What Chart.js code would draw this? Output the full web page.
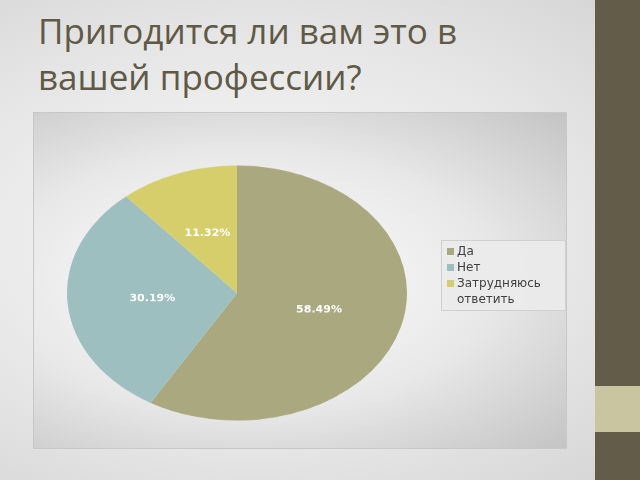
<!DOCTYPE html>
<html><head><meta charset="utf-8">
<script src="https://cdn.jsdelivr.net/npm/chart.js@4/dist/chart.umd.min.js"></script>
<style>
body{margin:0;width:640px;height:480px;overflow:hidden;background:radial-gradient(ellipse at 40% 50%,#fafafa 0%,#e6e6e6 60%,#d4d4d4 100%);font-family:"Open Sans","DejaVu Sans",sans-serif;position:relative}
#title{position:absolute;left:38px;top:8px;font-size:35px;line-height:46px;color:#5f5a45}
#bar{position:absolute;left:595px;top:0;width:45px;height:480px;background:#625c48}
#sq{position:absolute;left:595px;top:386px;width:45px;height:46px;background:#c8c5a0}
#box{position:absolute;left:33px;top:112px;width:532px;height:335px;border:1px solid #c8c8c8;overflow:hidden;background:radial-gradient(ellipse at 40% 50%,#ffffff 0%,#e8e8e8 55%,#c4c4c4 100%)}
#c{position:absolute;left:0;top:0;transform:scaleY(0.75);transform-origin:0 0}
#legend{position:absolute;left:441px;top:240px;width:118px;padding:2px 0 3px 5px;background:rgba(235,235,235,0.9);border:1px solid #d0d0d0;font-family:"DejaVu Sans";font-size:12px;color:#404040}
#legend div{position:relative;padding-left:10px;line-height:16px}
#legend span{position:absolute;left:0;top:5px;width:7px;height:7px}
</style></head><body>
<div id="title">Пригодится ли вам это в<br>вашей профессии?</div>
<div id="bar"></div><div id="sq"></div>
<div id="box"><canvas id="c" width="532" height="447"></canvas></div>
<div id="legend"></div>
<script>
const categories = ['Да', 'Нет', 'Затрудняюсь ответить'];
const values = [58.49, 30.19, 11.32];
const colors = ['#aaa87e', '#9dbfbf', '#d6ce6a'];

document.getElementById('legend').innerHTML = categories.map((c, i) =>
  `<div><span style="background:${colors[i]}"></span>${c}</div>`).join('');

const pctLabels = {
  id: 'pctLabels',
  afterDatasetsDraw(chart) {
    const ctx = chart.ctx;
    chart.getDatasetMeta(0).data.forEach((arc, i) => {
      const p = arc.tooltipPosition();
      ctx.save();
      ctx.translate(p.x, p.y);
      ctx.scale(1, 1 / 0.75);
      ctx.font = 'bold 11px "DejaVu Sans"';
      ctx.fillStyle = '#ffffff';
      ctx.textAlign = 'center';
      ctx.textBaseline = 'middle';
      ctx.fillText(values[i].toFixed(2) + '%', 0, 0);
      ctx.restore();
    });
  }
};

new Chart(document.getElementById('c'), {
  type: 'pie',
  data: {
    labels: categories,
    datasets: [{ data: values, backgroundColor: colors, borderWidth: 0 }]
  },
  options: {
    responsive: false,
    animation: false,
    layout: { padding: { left: 33, right: 159, top: 70, bottom: 37 } },
    plugins: { tooltip: { enabled: false }, legend: { display: false } }
  },
  plugins: [pctLabels]
});
</script>
</body></html>
